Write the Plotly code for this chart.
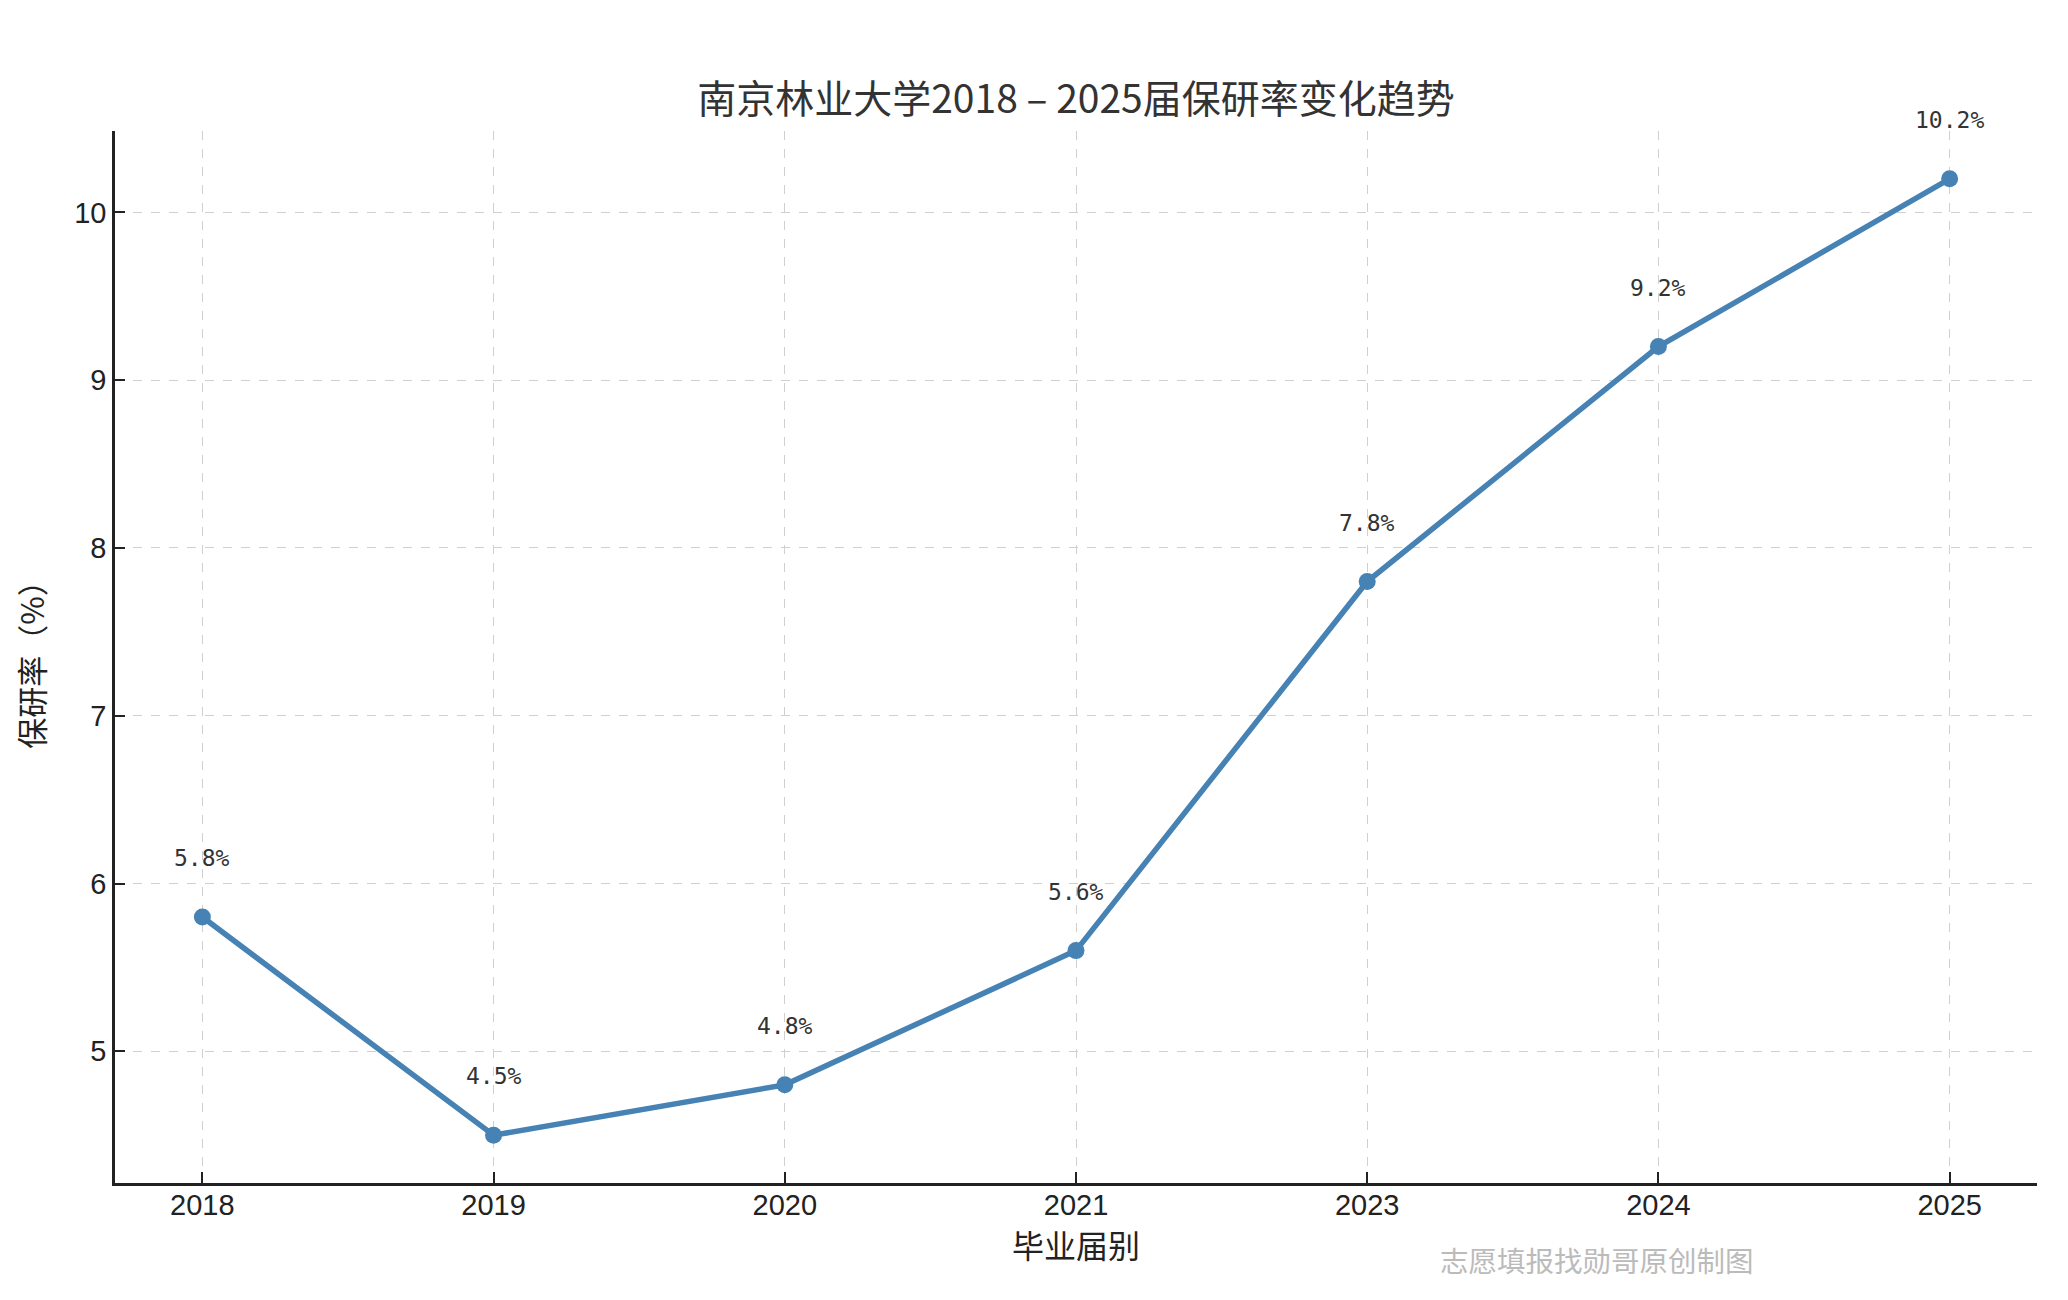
import plotly.graph_objects as go

years = ["2018", "2019", "2020", "2021", "2023", "2024", "2025"]
rates = [5.8, 4.5, 4.8, 5.6, 7.8, 9.2, 10.2]
labels = ["5.8%", "4.5%", "4.8%", "5.6%", "7.8%", "9.2%", "10.2%"]
y_ticks = [5, 6, 7, 8, 9, 10]

title_text = "南京林业大学2018 – 2025届保研率变化趋势"
x_title = "毕业届别"
y_title = "保研率（%）"
watermark = "志愿填报找勋哥原创制图"

CJK = "Noto Sans CJK SC"
LINE = "#4682B4"
W, H = 2068, 1300
L, R, T, B = 107, 39, 123, 125

fig = go.Figure()
fig.add_trace(go.Scatter(
    x=list(range(len(years))), y=rates, mode="lines+markers",
    line=dict(color=LINE, width=5.5),
    marker=dict(color=LINE, size=17),
    hoverinfo="skip", showlegend=False,
))

for i, (v, t) in enumerate(zip(rates, labels)):
    fig.add_annotation(
        x=i, y=v, text=t, showarrow=False, yshift=59,
        font=dict(family="DejaVu Sans Mono", size=23, color="#333333"),
        xanchor="center", yanchor="middle",
    )

fig.add_annotation(
    x=0.771, y=-0.073, xref="paper", yref="paper", text=watermark, showarrow=False,
    font=dict(family=CJK, size=28.5, color="#bbbbbb"),
    xanchor="center", yanchor="middle",
)

fig.update_layout(
    width=W, height=H,
    margin=dict(l=L, r=R, t=T, b=B),
    paper_bgcolor="white", plot_bgcolor="white",
    title=dict(text=title_text, x=(L + (W - R)) / 2 / W, xanchor="center",
               y=1 - 91 / H, yanchor="middle",
               font=dict(family=CJK, size=39, color="#333333")),
    xaxis=dict(
        range=[-0.3, 6.3], tickmode="array",
        tickvals=list(range(len(years))), ticktext=years,
        showline=True, linecolor="#222222", linewidth=2.5,
        ticks="inside", ticklen=11, tickwidth=2, tickcolor="#222222",
        showgrid=True, gridcolor="#d0d0d0", griddash="dash", gridwidth=1.3,
        zeroline=False, ticklabelstandoff=-6,
        tickfont=dict(family="Liberation Sans", size=29, color="#222222"),
        title=dict(text=x_title, font=dict(family=CJK, size=32, color="#222222"), standoff=14),
    ),
    yaxis=dict(
        range=[4.215, 10.485], tickmode="array", tickvals=y_ticks,
        ticktext=[str(v) for v in y_ticks],
        showline=True, linecolor="#222222", linewidth=2.5,
        ticks="inside", ticklen=10, tickwidth=2, tickcolor="#222222",
        showgrid=True, gridcolor="#d0d0d0", griddash="dash", gridwidth=1.3,
        zeroline=False,
        tickfont=dict(family="Liberation Sans", size=29, color="#222222"),
        title=dict(text=y_title, font=dict(family=CJK, size=31, color="#222222"), standoff=30),
    ),
)

fig.write_html("out.html")
